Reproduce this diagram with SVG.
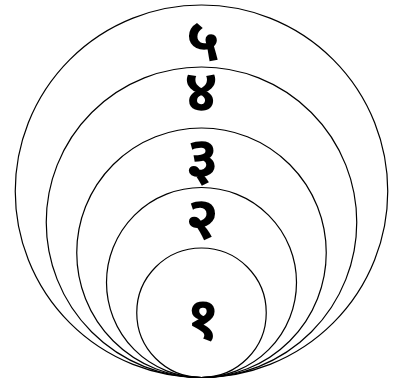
<svg xmlns="http://www.w3.org/2000/svg" width="399" height="379" viewBox="0 0 399 379">
<style>
.c{fill:none;stroke:#000;stroke-width:1.2}
.t{font-family:"Noto Sans","DejaVu Sans",sans-serif;font-size:60px;font-weight:bold;text-anchor:middle;fill:#000}
</style>
<rect width="399" height="379" fill="#fff"/>
<g id="n5"><circle class="c" cx="201.5" cy="191.25" r="186.25"/><text class="t" x="203" y="60">५</text></g>
<g id="n4"><circle class="c" cx="201.5" cy="222.25" r="155.25"/><text class="t" x="201" y="112">४</text></g>
<g id="n3"><circle class="c" cx="201.5" cy="252.75" r="124.75"/><text class="t" x="202" y="179">३</text></g>
<g id="n2"><circle class="c" cx="201.5" cy="282.5" r="95"/><text class="t" x="202" y="239">२</text></g>
<g id="n1"><circle class="c" cx="201.5" cy="312.75" r="64.75"/><text class="t" x="203" y="339">१</text></g>
</svg>
